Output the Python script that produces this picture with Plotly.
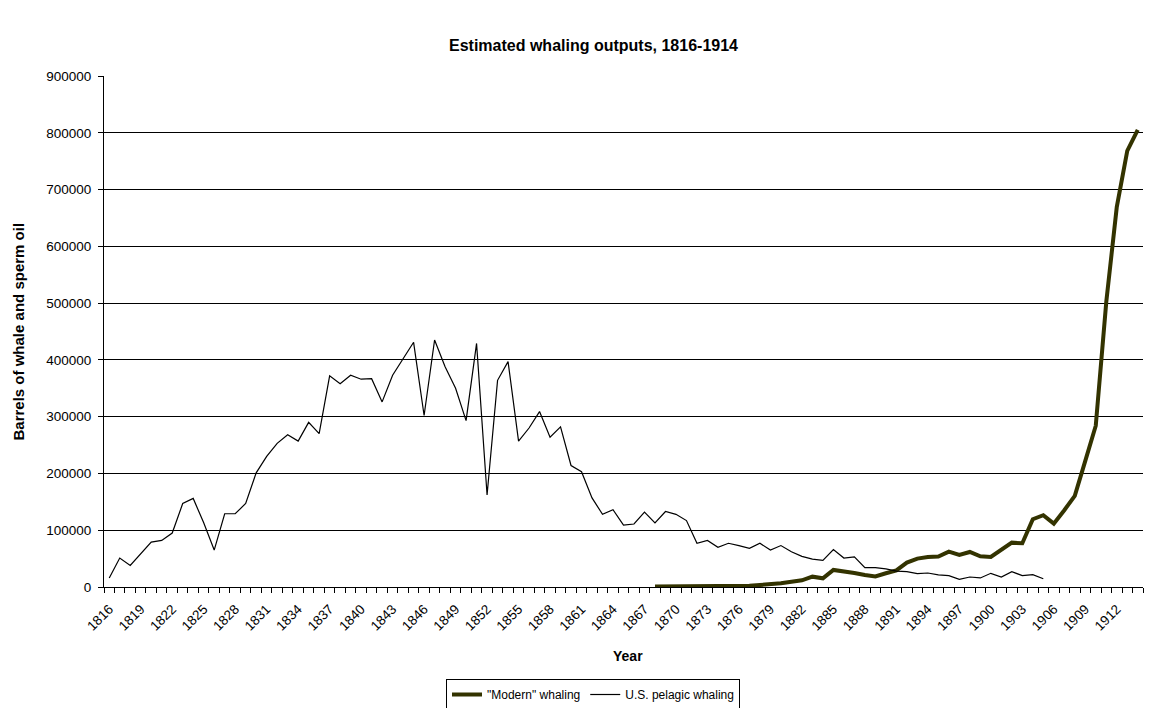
import plotly.graph_objects as go

# ---- data ----
us_years = list(range(1816, 1906))
us_values = [
    16000, 51000, 38000, 59000, 79000, 82000, 95000, 147000, 156000, 113000,   # 1816-1825
    65000, 129000, 129000, 147000, 201000, 230000, 253000, 268000, 257000, 290000,  # 1826-1835
    270000, 372000, 358000, 373000, 366000, 367000, 326000, 373000, 402000, 431000,  # 1836-1845
    302000, 435000, 388000, 350000, 293000, 429000, 162000, 364000, 397000, 257000,  # 1846-1855
    280000, 309000, 264000, 282000, 214000, 203000, 157000, 128000, 136000, 109000,  # 1856-1865
    111000, 132000, 113000, 133000, 128000, 117000, 77000, 82000, 70000, 77000,     # 1866-1875
    73000, 68000, 77000, 65000, 73000, 62000, 54000, 49000, 47000, 66000,           # 1876-1885
    51000, 53000, 34000, 34000, 32000, 28000, 27000, 23500, 24700, 21200,           # 1886-1895
    20000, 13500, 17600, 15900, 24100, 17600, 27000, 20000, 21700, 14600,           # 1896-1905
]

modern_years = list(range(1868, 1915))
modern_values = [
    1000, 1000, 1000, 1200, 1200, 1500, 1500, 1500, 1800, 2000,      # 1868-1877
    3500, 4700, 6500, 9400, 11800, 18200, 15300, 30000, 27700, 24700,  # 1878-1887
    21200, 18500, 24200, 29400, 42900, 50000, 52900, 53500, 62300, 56400,  # 1888-1897
    61700, 54100, 52900, 64700, 78100, 77000, 119400, 126400, 111600, 135300,  # 1898-1907
    160500, 222000, 284000, 502000, 669000, 768000, 805000,          # 1908-1914
]

x_tick_years = list(range(1816, 1913, 3))
y_tick_values = list(range(0, 900001, 100000))

FONT = "Liberation Sans, Arial, sans-serif"

fig = go.Figure()
fig.add_trace(go.Scatter(
    x=modern_years, y=modern_values, mode="lines",
    name='"Modern" whaling',
    line=dict(color="#333300", width=4),
))
fig.add_trace(go.Scatter(
    x=us_years, y=us_values, mode="lines",
    name="U.S. pelagic whaling",
    line=dict(color="black", width=1.2),
))

W, H = 1172, 708
L, R, T, B = 104, 29, 76, 121
pw = W - L - R
ph = H - T - B

fig.update_layout(
    width=W, height=H,
    margin=dict(l=L, r=R, t=T, b=B, autoexpand=False),
    paper_bgcolor="white", plot_bgcolor="white",
    font=dict(family=FONT, size=13, color="black"),
    showlegend=True,
    legend=dict(
        orientation="h",
        x=(593 - L) / pw, xanchor="center",
        y=(H - B - 679) / ph, yanchor="top",
        bordercolor="black", borderwidth=1,
        font=dict(size=12),
        itemwidth=30,
        traceorder="normal",
        tracegroupgap=0,
    ),
    annotations=[
        dict(text="<b>Estimated whaling outputs, 1816-1914</b>",
             xref="paper", yref="paper",
             x=(593 - L) / pw, y=(H - B - 46) / ph,
             xanchor="center", yanchor="middle", showarrow=False,
             font=dict(size=16)),
        dict(text="<b>Barrels of whale and sperm oil</b>",
             xref="paper", yref="paper",
             x=(18 - L) / pw, y=0.5, textangle=-90,
             xanchor="center", yanchor="middle", showarrow=False,
             font=dict(size=15)),
        dict(text="<b>Year</b>",
             xref="paper", yref="paper",
             x=(628 - L) / pw, y=(H - B - 656) / ph,
             xanchor="center", yanchor="middle", showarrow=False,
             font=dict(size=14)),
    ],
)

fig.update_xaxes(
    automargin=False,
    range=[1815.5, 1914.5],
    tickmode="array", tickvals=x_tick_years,
    ticktext=[str(y) for y in x_tick_years],
    tickangle=-45, ticks="",
    ticklabelstandoff=8,
    showgrid=False, zeroline=False,
    showline=True, linecolor="black", linewidth=1,
    tickfont=dict(size=13.5),
    minor=dict(tick0=1815.5, dtick=1, ticks="outside", ticklen=5,
               tickcolor="black", tickwidth=1, showgrid=False),
)
fig.update_yaxes(
    automargin=False,
    range=[0, 900000],
    tickmode="array", tickvals=y_tick_values,
    tickformat="d",
    ticks="outside", ticklen=5, tickcolor="black",
    ticklabelstandoff=4,
    showgrid=True, gridcolor="black", gridwidth=1,
    zeroline=False,
    showline=True, linecolor="black", linewidth=1,
    tickfont=dict(size=13.5),
)

fig.write_html("out.html")
